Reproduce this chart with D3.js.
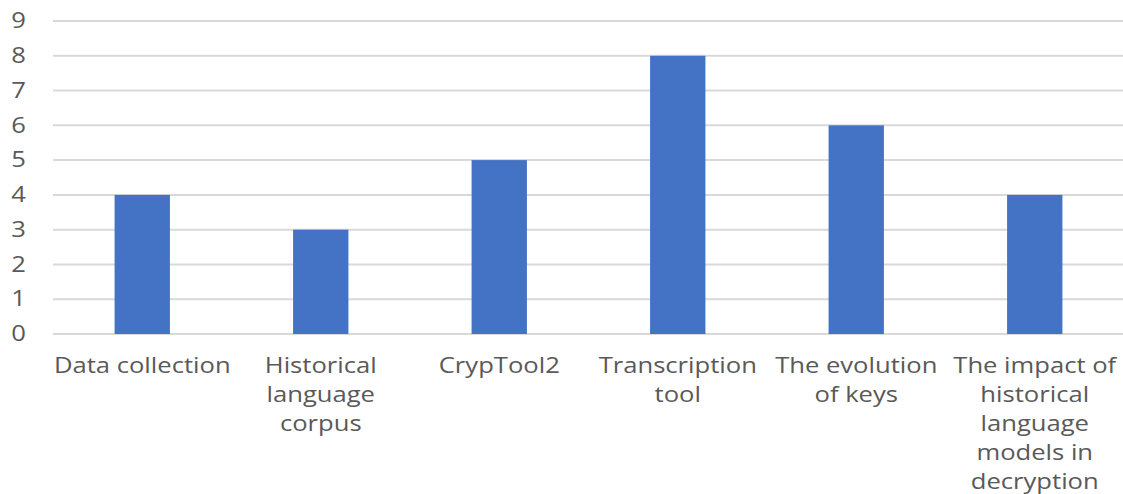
<!DOCTYPE html>
<html>
<head>
<meta charset="utf-8">
<script src="https://cdn.jsdelivr.net/npm/d3@7"></script>
<style>
  html, body { margin: 0; padding: 0; background: #fff; }
  svg { display: block; }
  text { font-family: "Open Sans", "Noto Sans", sans-serif; fill: #595959; }
</style>
</head>
<body>
<svg id="chart" width="1123" height="494"></svg>
<script>
// Topics and the count recorded for each
const categories = [
  ["Data collection"],
  ["Historical", "language", "corpus"],
  ["CrypTool2"],
  ["Transcription", "tool"],
  ["The evolution", "of keys"],
  ["The impact of", "historical", "language", "models in", "decryption"]
];
const values = [4, 3, 5, 8, 6, 4];
const yTicks = [0, 1, 2, 3, 4, 5, 6, 7, 8, 9];

const svg = d3.select("#chart");
const plotLeft = 53, plotRight = 1124, plotTop = 21, plotBottom = 334;
const textStretch = "scale(1.22,1)";

const x = d3.scaleBand()
  .domain(d3.range(categories.length))
  .range([plotLeft, plotRight])
  .paddingInner(0.69)
  .paddingOuter(0.345);

const y = d3.scaleLinear().domain([0, 9]).range([plotBottom, plotTop]);

// horizontal gridlines
svg.append("g")
  .selectAll("line")
  .data(yTicks)
  .join("line")
  .attr("x1", plotLeft)
  .attr("x2", plotRight)
  .attr("y1", d => y(d))
  .attr("y2", d => y(d))
  .attr("stroke", "#d9d9d9")
  .attr("stroke-width", 2);

// y-axis labels
const yAxis = d3.axisLeft(y).tickValues(yTicks).tickSize(0).tickPadding(0);
const gy = svg.append("g").attr("transform", "translate(26,0)").call(yAxis);
gy.select(".domain").remove();
gy.selectAll("text")
  .attr("font-size", 21)
  .attr("font-family", "Open Sans, sans-serif")
  .attr("fill", "#595959")
  .attr("transform", textStretch);

// bars
svg.append("g")
  .selectAll("rect")
  .data(values)
  .join("rect")
  .attr("x", (d, i) => x(i))
  .attr("y", d => y(d))
  .attr("width", x.bandwidth())
  .attr("height", d => y(0) - y(d))
  .attr("fill", "#4472c4");

// category labels, wrapped
const labels = svg.append("g")
  .selectAll("g")
  .data(categories)
  .join("g")
  .attr("transform", (d, i) => `translate(${x(i) + x.bandwidth() / 2},373) ${textStretch}`)
  .append("text")
  .attr("text-anchor", "middle")
  .attr("font-size", 21);

labels.selectAll("tspan")
  .data(d => d)
  .join("tspan")
  .attr("x", 0)
  .attr("dy", (d, j) => j === 0 ? 0 : 29)
  .text(d => d);
</script>
</body>
</html>
